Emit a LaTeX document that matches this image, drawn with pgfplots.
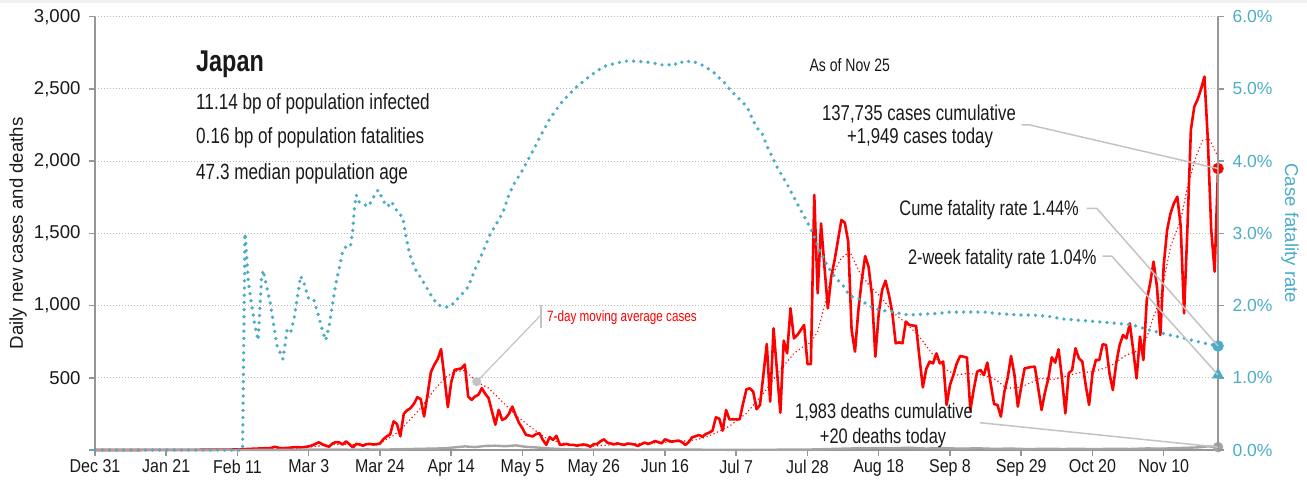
\documentclass[border=0pt]{standalone}
\usepackage{pgfplots}
\pgfplotsset{compat=1.18}
\usepackage{pgfplotstable}
\usepackage{fontspec}
\setmainfont{Liberation Sans}
\newfontfamily\cond{Liberation Sans}[FakeStretch=0.78]
\newfontfamily\condx{Liberation Sans}[FakeStretch=0.86]
\definecolor{cfrblue}{RGB}{75,172,198}
\definecolor{axgray}{RGB}{150,150,150}
\definecolor{gridgray}{RGB}{185,185,185}
\definecolor{dgray}{RGB}{165,165,165}
\definecolor{leadgray}{RGB}{195,195,195}
\definecolor{topgray}{RGB}{240,240,240}
\definecolor{txt}{RGB}{25,25,25}

\pgfplotstableread{
d v
0 0
10 0
20 1
28 1
35 2
40 3
42 4
44 6
46 8
48 10
50 12
52 14
53 22
54 16
55 12
57 15
59 20
61 18
63 25
64 32
66 53
67 40
68 30
69 23
70 45
71 55
72 52
73 38
74 60
75 40
76 18
77 42
78 38
79 30
80 40
81 42
82 38
83 40
84 45
85 75
86 95
87 108
88 198
89 180
90 95
91 250
92 275
93 290
94 320
95 366
96 352
97 232
98 380
99 539
100 590
101 629
102 698
103 500
104 297
105 470
106 555
107 560
108 565
109 592
110 370
111 347
112 370
113 382
114 428
115 390
116 359
117 267
118 175
119 278
120 208
121 220
122 250
123 301
124 240
125 186
126 150
127 105
128 100
129 94
130 110
131 117
132 70
133 36
134 89
135 70
136 98
137 36
138 38
139 42
140 35
141 36
142 30
143 35
144 38
145 35
146 23
147 40
148 42
149 60
150 74
151 51
152 45
153 39
154 46
155 40
156 35
157 45
158 42
159 38
160 28
161 40
162 51
163 42
164 50
165 62
166 55
167 46
168 74
169 65
170 58
171 62
172 65
173 55
174 35
175 55
176 88
177 95
178 104
179 92
180 110
181 120
182 134
183 226
184 217
185 134
186 277
187 212
188 212
189 212
190 212
191 320
192 420
193 427
194 404
195 282
196 312
197 520
198 734
199 335
200 842
201 550
202 258
203 757
204 669
205 981
206 773
207 796
208 830
209 866
210 595
211 595
212 1766
213 1085
214 1569
215 1269
216 981
217 1200
218 1316
219 1454
220 1593
221 1574
222 1443
223 831
224 681
225 969
226 1177
227 1343
228 1269
229 1073
230 646
231 946
232 1108
233 1172
234 1073
235 951
236 739
237 745
238 739
239 889
240 866
241 862
242 859
243 640
244 434
245 560
246 612
247 600
248 669
249 600
250 612
251 312
252 450
253 519
254 600
255 651
256 646
257 640
258 277
259 420
260 542
261 554
262 519
263 605
264 460
265 318
266 312
267 231
268 400
269 500
270 651
271 520
272 300
273 440
274 565
275 570
276 575
277 577
278 430
279 277
280 400
281 496
282 642
283 605
284 697
285 500
286 254
287 531
288 554
289 704
290 635
291 612
292 450
293 312
294 531
295 623
296 623
297 732
298 727
299 531
300 415
301 600
302 727
303 796
304 773
305 877
306 692
307 496
308 785
309 623
310 1039
311 1154
312 1304
313 1131
314 796
315 1281
316 1523
317 1639
318 1708
319 1754
320 1550
321 946
322 1546
323 2216
324 2377
325 2428
326 2500
327 2585
328 2146
329 1523
330 1235
331 1949
}\cases

\pgfplotstableread{
d v
0 0
50 2
60 12
70 38
80 40
84 48
88 100
91 163
96 290
100 416
103 497
106 543
109 550
112.5 473
116 428
119.5 347
124.5 231
129.5 139
133 82
137 51
142 30
147 28
155 40
165 50
172 58
177 70
180 88
184 130
187 165
192 254
197 392
202 554
206 669
209 720
211 745
213 820
215 1000
217 1200
220 1330
222.5 1373
225.5 1223
228.5 1131
231.5 1062
235.5 946
239 880
243 785
247 658
251 554
254 519
257 531
262 519
265.7 485
268.6 427
272.6 434
275.5 462
278.5 496
282.4 489
286.3 512
290 535
294 542
299 577
304 658
308 692
310 780
312 923
314 1050
317 1408
320 1593
322 1823
324.5 2031
326.5 2146
328.5 2150
331 2030
}\ma

\pgfplotstableread{
d v
0 0
40 0
45 0
50 1
55 1
60 2
65 3
70 3
75 2
80 4
85 3
90 5
95 8
100 10
103 12
106 18
109 25
112 20
115 28
118 30
121 26
124 32
127 22
130 18
133 12
136 8
139 6
142 4
150 3
160 2
170 3
180 2
190 1
200 2
210 3
215 6
220 9
225 12
230 14
235 12
240 16
245 10
250 14
255 9
260 12
265 8
270 10
275 6
280 9
285 7
290 8
295 6
300 9
305 7
310 11
315 10
320 14
325 18
328 25
331 20
}\deaths

\pgfplotstableread{
d v
0 0
43.5 0
44.2 3.0
44.7 2.68
45.2 2.33
46.1 2.03
47.1 1.73
48.1 1.52
49.1 2.40
49.6 2.49
50.6 2.26
51.6 2.05
52.6 1.75
53.6 1.45
55.4 1.26
56.6 1.66
57.6 1.62
58.6 1.80
59.6 2.10
60.6 2.41
61.6 2.31
63 2.09
64.5 2.08
65.7 1.89
67 1.66
68 1.52
69 1.71
70 2.01
71 2.31
72 2.52
73 2.75
74 2.82
75.3 2.82
76 3.05
76.4 3.32
77 3.53
77.6 3.44
78.9 3.42
80.4 3.37
81.4 3.44
82.4 3.53
83.4 3.60
84.2 3.53
85.1 3.44
86.3 3.37
87.3 3.44
88.3 3.37
89.3 3.28
90.7 3.23
91.4 3.02
92.7 2.72
94.2 2.52
96.1 2.38
98.1 2.22
99.6 2.10
101.1 2.01
103 1.98
104.6 1.98
106 2.05
108 2.15
110 2.26
112 2.50
114.4 2.75
116.4 2.98
118.4 3.14
120.3 3.30
121.8 3.51
123.3 3.67
125.7 3.85
128.7 4.11
131.2 4.34
134.1 4.59
137.6 4.82
141.5 5.01
145.9 5.18
149.9 5.31
153.8 5.36
157.2 5.39
160.6 5.38
164.6 5.36
166.5 5.33
168.5 5.34
170.5 5.32
172 5.38
174 5.36
175.4 5.39
177.4 5.36
178.9 5.33
180.4 5.29
182.3 5.23
183.8 5.16
185.3 5.10
186.8 5.01
188.2 4.94
189.7 4.87
191.2 4.80
192.6 4.71
194.1 4.55
195.1 4.46
196.6 4.39
198.1 4.20
199.1 4.11
200 4.02
201 3.92
202 3.84
203 3.76
204 3.68
205 3.59
206 3.50
207 3.41
208 3.32
209 3.24
210 3.15
211 3.06
212 2.95
213 2.82
214 2.72
215 2.63
216 2.54
217 2.47
218 2.40
219 2.35
220.6 2.27
222.5 2.13
224.5 2.11
226.5 2.05
228.4 1.99
230.4 1.95
232.4 1.93
234.3 1.92
236.3 1.90
238.2 1.88
240.2 1.87
244 1.88
248 1.89
252 1.91
256 1.91
262 1.91
266 1.89
272 1.87
276 1.87
281 1.85
286 1.81
292 1.79
302 1.75
306 1.73
310 1.67
316 1.60
320 1.56
325 1.50
331 1.44
}\cfr

\pgfplotsset{
  every non boxed x axis/.style={},
  every non boxed y axis/.style={},
}

\begin{document}
\begin{tikzpicture}
\fill[topgray] (-95pt,447pt) rectangle (1212pt,450pt);
\begin{axis}[
  at={(0pt,0pt)}, anchor=south west,
  scale only axis, width=1123pt, height=433.3pt,
  xmin=0, xmax=331, ymin=0, ymax=3000,
  axis x line*=bottom, axis y line*=left,
  axis line style={draw=axgray, line width=2pt, -},
  x axis line style={-}, y axis line style={-},
  tick align=outside, major tick length=6pt,
  tick style={draw=axgray, line width=1.5pt},
  xtick={0,21,...,315},
  xticklabels={Dec 31,Jan 21,Feb 11,Mar 3,Mar 24,Apr 14,May 5,May 26,Jun 16,Jul 7,Jul 28,Aug 18,Sep 8,Sep 29,Oct 20,Nov 10},
  xticklabel style={font=\condx\fontsize{18.6}{20}\selectfont, text=txt},
  ytick={0,500,...,3000},
  yticklabels={,500,{1,000},{1,500},{2,000},{2,500},{3,000}},
  yticklabel style={font=\fontsize{18.6}{20}\selectfont, text=txt, xshift=-5pt},
  ymajorgrids, grid style={draw=gridgray, line width=1pt, dash pattern=on 1pt off 2pt},
  clip=false,
]
\addplot[red, line width=1.6pt, line cap=round, dash pattern=on 0pt off 3.8pt] table {\ma};
\addplot[red, line width=2.6pt, line join=round] table {\cases};
\addplot[dgray, line width=2.4pt, line join=round] table {\deaths};
\addplot[only marks, mark=*, mark size=4.3pt, color=leadgray] coordinates {(112.5,473)};
\addplot[only marks, mark=*, mark size=5.5pt, red] coordinates {(331,1949)};
\addplot[only marks, mark=*, mark size=5pt, dgray] coordinates {(331,20)};
\end{axis}
\begin{axis}[
  at={(0pt,0pt)}, anchor=south west,
  scale only axis, width=1123pt, height=433.3pt,
  xmin=0, xmax=331, ymin=0, ymax=6,
  axis x line=none, axis y line*=right,
  axis line style={draw=axgray, line width=2pt, -},
  y axis line style={-},
  tick align=outside, major tick length=6pt,
  tick style={draw=axgray, line width=1.5pt},
  ytick={0,1,...,6},
  yticklabels={0.0\%,1.0\%,2.0\%,3.0\%,4.0\%,5.0\%,6.0\%},
  yticklabel style={font=\fontsize{17.5}{20}\selectfont, text=cfrblue, xshift=5pt},
  clip=false,
]
\addplot[cfrblue, line width=3.7pt, line cap=round, dash pattern=on 0pt off 7.2pt] table {\cfr};
\addplot[only marks, mark=*, mark size=5.5pt, cfrblue] coordinates {(331,1.44)};
\addplot[only marks, mark=triangle*, mark size=6.5pt, cfrblue] coordinates {(331,1.04)};
\end{axis}
% labels
\node[rotate=90, font=\fontsize{18.6}{20}\selectfont, text=txt] at (-77pt,216.7pt) {Daily new cases and deaths};
\node[rotate=-90, font=\fontsize{18.6}{20}\selectfont, text=cfrblue] at (1195pt,216.7pt) {Case fatality rate};
% title block
\node[anchor=base west, inner sep=0pt, font=\cond\bfseries\fontsize{30}{30}\selectfont, text=txt] at (101pt,378.3pt) {Japan};
\node[anchor=base west, inner sep=0pt, font=\cond\fontsize{22}{22}\selectfont, text=txt] at (101pt,340.7pt) {11.14 bp of population infected};
\node[anchor=base west, inner sep=0pt, font=\cond\fontsize{22}{22}\selectfont, text=txt] at (101pt,306pt) {0.16 bp of population fatalities};
\node[anchor=base west, inner sep=0pt, font=\cond\fontsize{22}{22}\selectfont, text=txt] at (101pt,271pt) {47.3 median population age};
\node[anchor=base west, inner sep=0pt, font=\cond\fontsize{18}{18}\selectfont, text=txt] at (714.3pt,378.3pt) {As of Nov 25};
% cases annotation
\node[anchor=base, inner sep=0pt, font=\cond\fontsize{21.5}{21.5}\selectfont, text=txt] at (824pt,329.3pt) {137,735 cases cumulative};
\node[anchor=base, inner sep=0pt, font=\cond\fontsize{21.5}{21.5}\selectfont, text=txt] at (825pt,306pt) {+1,949 cases today};
\draw[leadgray, line width=1.5pt] (926.7pt,325pt) -- (935pt,325pt) -- (1123pt,281.4pt);
% fatality rates
\node[anchor=base east, inner sep=0pt, font=\cond\fontsize{21}{21}\selectfont, text=txt] at (984pt,235pt) {Cume fatality rate 1.44\%};
\draw[leadgray, line width=1.5pt] (991.7pt,241.7pt) -- (1001.7pt,241.7pt) -- (1123pt,104pt);
\node[anchor=base east, inner sep=0pt, font=\cond\fontsize{21}{21}\selectfont, text=txt] at (1001.7pt,185.7pt) {2-week fatality rate 1.04\%};
\draw[leadgray, line width=1.5pt] (1007.7pt,194pt) -- (1016.7pt,194pt) -- (1123pt,75.1pt);
% deaths
\node[anchor=base, inner sep=0pt, font=\cond\fontsize{21}{21}\selectfont, text=txt] at (789pt,31.7pt) {1,983 deaths cumulative};
\node[anchor=base, inner sep=0pt, font=\cond\fontsize{21}{21}\selectfont, text=txt] at (788pt,6.7pt) {+20 deaths today};
\draw[leadgray, line width=1.5pt] (885pt,27.3pt) -- (1123pt,2.9pt);
% moving average label
\node[anchor=base west, inner sep=0pt, font=\cond\fontsize{15}{15}\selectfont, text=red] at (452pt,128.3pt) {7-day moving average cases};
\draw[leadgray, line width=1.2pt] (381.7pt,68.3pt) -- (445pt,134pt);
\draw[leadgray, line width=1.2pt] (446pt,122pt) -- (446pt,145pt);
\pgfresetboundingbox
\path[use as bounding box] (-95pt,-41pt) rectangle (1212pt,450pt);
\end{tikzpicture}
\end{document}
